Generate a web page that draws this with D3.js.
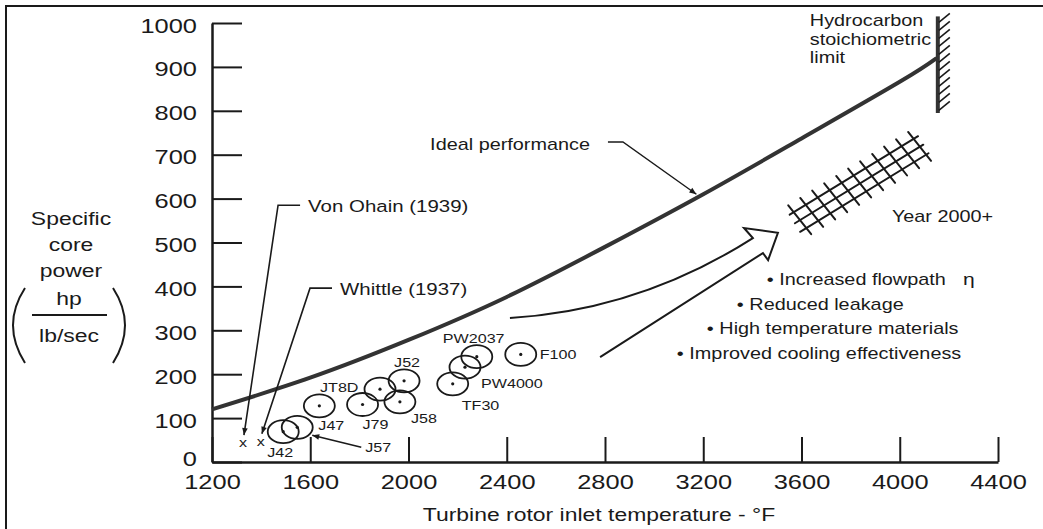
<!DOCTYPE html>
<html>
<head>
<meta charset="utf-8">
<script src="https://cdn.jsdelivr.net/npm/d3@7"></script>
<style>
body { margin: 0; background: #fff; }
svg { display: block; }
text { font-family: "Liberation Sans", Arial, Helvetica, sans-serif; fill: #1a1a1a; }
</style>
</head>
<body>
<div id="chart"></div>
<script>
var width = 1043;
var height = 529;
var stretch = 1.24;   // scan is wider than tall, text looks stretched
var ink = "#1a1a1a";

// axis ticks
var xTicks = [1200, 1600, 2000, 2400, 2800, 3200, 3600, 4000, 4400];
var yTicks = [0, 100, 200, 300, 400, 500, 600, 700, 800, 900, 1000];

// ideal performance curve (temperature F, hp/(lb/sec))
var idealTemp = [1200, 1600, 2000, 2400, 2800, 3200, 3600, 4000, 4150];
var idealPower = [120, 192, 278, 376, 490, 610, 737, 866, 920];

// engines
var engineNames = ["J42", "J57", "J47", "J79", "JT8D", "J58", "J52", "TF30", "PW4000", "PW2037", "F100"];
var engineTemp = [1490, 1547, 1637, 1813, 1884, 1965, 1982, 2180, 2230, 2278, 2457];
var enginePower = [69, 79, 128, 131, 166, 137, 185, 178, 216, 240, 245];

// first jet engines
var pioneerNames = ["Von Ohain (1939)", "Whittle (1937)"];
var pioneerTemp = [1326, 1399];
var pioneerPower = [43, 46];
var pioneerElbow = [[1469, 585], [1599, 396]];

// stoichiometric limit
var stoichTemp = 4155;
var stoichRange = [795, 1015];

// year 2000+ goal band (centre line ends)
var futureBand = [[3594, 551], [4082, 718]];

var improvements = ["Increased flowpath", "Reduced leakage", "High temperature materials", "Improved cooling effectiveness"];

// label offsets in px from each engine circle centre
var labelOffset = {
    J42: [-16, 25], J57: [68, 25], J47: [-1, 24], J79: [0, 25], JT8D: [-60, 3],
    J58: [11, 21], J52: [-10, -14], TF30: [9, 26], PW4000: [16, 21],
    PW2037: [-34, -14], F100: [19, 5]
};

var svg = d3.select("#chart").append("svg")
    .attr("width", width)
    .attr("height", height);

var defs = svg.append("defs");
defs.append("marker")
    .attr("id", "head")
    .attr("viewBox", "0 0 10 10")
    .attr("refX", 10).attr("refY", 5)
    .attr("markerWidth", 8).attr("markerHeight", 7)
    .attr("markerUnits", "userSpaceOnUse")
    .attr("orient", "auto")
    .append("path")
    .attr("d", "M0,1 L10,5 L0,9 Z")
    .style("fill", ink);

var x = d3.scaleLinear().domain([1200, 4400]).range([212, 998]);
var y = d3.scaleLinear().domain([0, 1000]).range([462, 23]);

function label(g, px, py, str, size, anchor) {
    return g.append("text")
        .attr("transform", "translate(" + px + "," + py + ") scale(" + stretch + ",1)")
        .attr("text-anchor", anchor || "start")
        .style("font-size", size + "px")
        .text(str);
}

// frame (top and left edges only)
svg.append("path")
    .attr("d", "M6," + height + " V6 H" + width)
    .style("fill", "none")
    .style("stroke", ink)
    .style("stroke-width", 2);

// y axis
var gy = svg.append("g")
    .attr("transform", "translate(212,0)")
    .attr("color", ink)
    .call(d3.axisLeft(y).tickValues(yTicks).tickFormat(d3.format("d"))
        .tickSize(-30).tickSizeOuter(0).tickPadding(0));
gy.select(".domain").style("stroke-width", 2.5);
gy.selectAll(".tick line").style("stroke-width", 2);
gy.selectAll(".tick text")
    .attr("x", null).attr("dy", null)
    .attr("transform", function(d) { return "translate(-15," + (d === 0 ? 3 : 9) + ") scale(" + stretch + ",1)"; })
    .attr("font-family", null)
    .style("font-size", "20.5px");

// x axis
var gx = svg.append("g")
    .attr("transform", "translate(0,462)")
    .attr("color", ink)
    .call(d3.axisBottom(x).tickValues(xTicks).tickFormat(d3.format("d"))
        .tickSize(-25).tickSizeOuter(0).tickPadding(0));
gx.select(".domain").style("stroke-width", 2.5);
gx.selectAll(".tick line").style("stroke-width", 2);
gx.selectAll(".tick text")
    .attr("y", null).attr("dy", null)
    .attr("transform", "translate(0,27) scale(" + stretch + ",1)")
    .style("font-size", "20.5px");

// axis titles
label(svg, 599, 521, "Turbine rotor inlet temperature - \u00B0F", 18.5, "middle");
label(svg, 71, 225, "Specific", 18.5, "middle");
label(svg, 71, 251, "core", 18.5, "middle");
label(svg, 71, 277, "power", 18.5, "middle");
label(svg, 69, 305, "hp", 18.5, "middle");
label(svg, 69, 342, "lb/sec", 18.5, "middle");
svg.append("line")
    .attr("x1", 32).attr("x2", 107).attr("y1", 315).attr("y2", 315)
    .style("stroke", ink).style("stroke-width", 1.8);
svg.append("path")
    .attr("d", "M25,288 Q1,325 25,363 M113,288 Q137,325 113,363")
    .style("fill", "none").style("stroke", ink).style("stroke-width", 2);

// ideal performance curve
var ideal = idealTemp.map(function(t, i) { return [t, idealPower[i]]; });
svg.append("path")
    .datum(ideal)
    .attr("d", d3.line().x(function(d) { return x(d[0]); }).y(function(d) { return y(d[1]); }).curve(d3.curveNatural))
    .style("fill", "none")
    .style("stroke", "#333")
    .style("stroke-width", 4);

// stoichiometric wall
var wx = x(stoichTemp);
svg.append("line")
    .attr("x1", wx).attr("x2", wx)
    .attr("y1", y(stoichRange[0])).attr("y2", y(stoichRange[1]))
    .style("stroke", "#333").style("stroke-width", 4);
var hatch = d3.range(y(stoichRange[1]) + 6, y(stoichRange[0]), 8);
svg.selectAll(".wallHatch").data(hatch).enter().append("line")
    .attr("class", "wallHatch")
    .attr("x1", wx + 1).attr("y1", function(d) { return d; })
    .attr("x2", wx + 12).attr("y2", function(d) { return d - 9; })
    .style("stroke", ink).style("stroke-width", 1.6);
label(svg, wx - 128, 26, "Hydrocarbon", 16);
label(svg, wx - 128, 45, "stoichiometric", 16);
label(svg, wx - 128, 63, "limit", 16);

// ideal performance label + leader
label(svg, x(2088), y(711), "Ideal performance", 16);
svg.append("path")
    .attr("d", "M" + x(2812) + "," + y(729) + " H" + x(2873) + " L" + x(3172) + "," + y(610))
    .style("fill", "none").style("stroke", ink).style("stroke-width", 1.4)
    .attr("marker-end", "url(#head)");

// year 2000+ band
var b0 = [x(futureBand[0][0]), y(futureBand[0][1])];
var b1 = [x(futureBand[1][0]), y(futureBand[1][1])];
var bdx = b1[0] - b0[0], bdy = b1[1] - b0[1];
var blen = Math.sqrt(bdx * bdx + bdy * bdy);
var ux = bdx / blen, uy = bdy / blen;
var nx = -uy, ny = ux;
var bandG = svg.append("g").style("stroke", ink).style("stroke-width", 2).style("stroke-linecap", "round");
[-10, 0, 10].forEach(function(o) {
    bandG.append("line")
        .attr("x1", b0[0] + nx * o - ux * 6).attr("y1", b0[1] + ny * o - uy * 6)
        .attr("x2", b1[0] + nx * o + ux * 4).attr("y2", b1[1] + ny * o + uy * 4);
});
var cdx = 0.62, cdy = 0.78;
d3.range(0, 11).forEach(function(i) {
    var cx = b0[0] + ux * (i * blen / 10), cy = b0[1] + uy * (i * blen / 10);
    bandG.append("line")
        .attr("x1", cx - cdx * 19).attr("y1", cy - cdy * 19)
        .attr("x2", cx + cdx * 18).attr("y2", cy + cdy * 18);
});
label(svg, x(3968), y(547), "Year 2000+", 16);

// hollow progress arrow
var arrowPts = {
    upperTail: [2413, 328], ctrl: [2942, 346], upperNeck: [3402, 510], upperBarb: [3366, 533],
    tip: [3504, 522], lowerBarb: [3464, 460], lowerNeck: [3443, 476], lowerTail: [2780, 239]
};
function P(k) { return x(arrowPts[k][0]) + "," + y(arrowPts[k][1]); }
svg.append("path")
    .attr("d", "M" + P("upperTail") + " Q" + P("ctrl") + " " + P("upperNeck") + " L" + P("upperBarb") +
        " L" + P("tip") + " L" + P("lowerBarb") + " L" + P("lowerNeck") + " L" + P("lowerTail"))
    .style("fill", "none").style("stroke", ink).style("stroke-width", 2).style("stroke-linejoin", "miter");

// improvements list
improvements.forEach(function(s, i) {
    label(svg, x(3459) - 30 * i, y(403) + 24.5 * i, "\u2022 " + s, 16);
});
label(svg, 963, y(403), "\u03B7", 17);

// pioneers: x marks and leaders
pioneerNames.forEach(function(name, i) {
    var mx = x(pioneerTemp[i]), my = y(pioneerPower[i]);
    label(svg, mx, my + 4, "x", 13, "middle");
    var ex = x(pioneerElbow[i][0]), ey = y(pioneerElbow[i][1]);
    svg.append("path")
        .attr("d", "M" + (ex + 22) + "," + ey + " H" + ex + " L" + (mx + 1) + "," + (my - 8))
        .style("fill", "none").style("stroke", ink).style("stroke-width", 1.6)
        .attr("marker-end", "url(#head)");
    label(svg, ex + 30, ey + 7, name, 16.5);
});

// engines
var engines = engineNames.map(function(n, i) { return { name: n, t: engineTemp[i], p: enginePower[i] }; });
var eg = svg.selectAll(".engine").data(engines).enter().append("g")
    .attr("class", "engine")
    .attr("transform", function(d) { return "translate(" + x(d.t) + "," + y(d.p) + ")"; });
eg.append("ellipse")
    .attr("rx", 15.5).attr("ry", 11.5)
    .style("fill", "none").style("stroke", ink).style("stroke-width", 1.8);
eg.append("circle")
    .attr("r", 1.6)
    .style("fill", ink);
eg.each(function(d) {
    var o = labelOffset[d.name];
    label(d3.select(this), o[0], o[1], d.name, 13);
});

// J57 pointer
var j57 = engines[1];
svg.append("line")
    .attr("x1", x(j57.t) + 64).attr("y1", y(j57.p) + 20)
    .attr("x2", x(j57.t) + 15).attr("y2", y(j57.p) + 8)
    .style("stroke", ink).style("stroke-width", 1.5)
    .attr("marker-end", "url(#head)");
</script>
</body>
</html>
